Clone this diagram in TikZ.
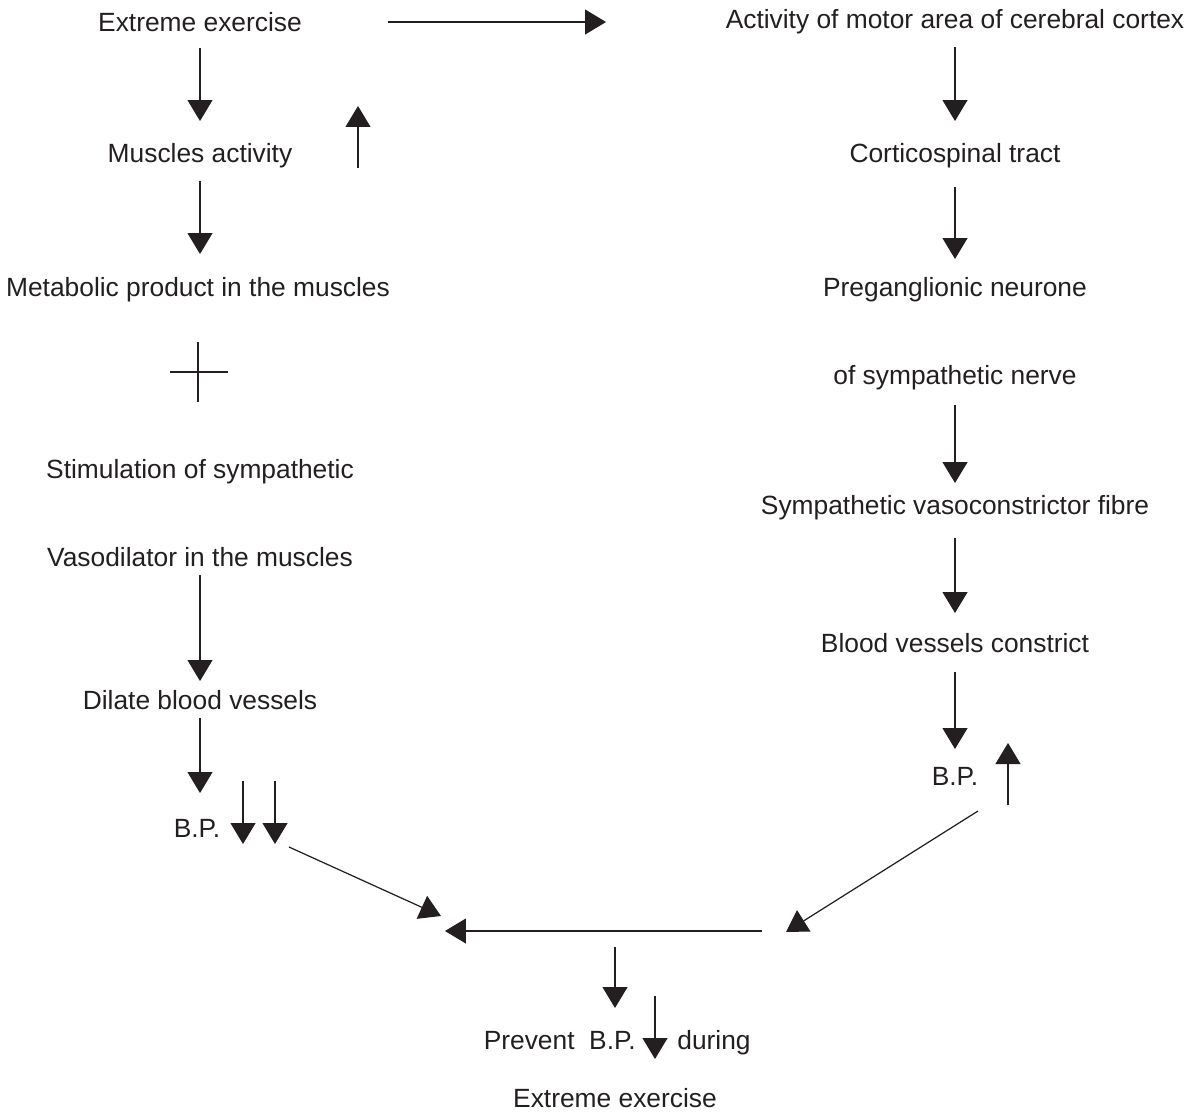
\documentclass[tikz,border=0pt]{standalone}
\usepackage{fontspec}
\setmainfont{Liberation Sans}
\usetikzlibrary{arrows.meta}
\definecolor{ink}{HTML}{231F20}
\begin{document}
\begin{tikzpicture}[x=0.02cm,y=-0.02cm,
  lbl/.style={inner sep=0pt,text=ink,font=\fontsize{15}{18}\selectfont},
  conn/.style={draw=ink,line width=0.7pt,-{Triangle[length=0.42cm,width=0.5cm]}},
  plain/.style={draw=ink,line width=0.7pt}]
\useasboundingbox (0,0) rectangle (1191,1112);
% left column
\node[lbl] (ee) at (200,22) {Extreme exercise};
\node[lbl] (ma) at (200,156) {Muscles activity};
\node[lbl] (mp) at (198,290) {Metabolic product in the muscles};
\node[lbl] (ss) at (200,472) {Stimulation of sympathetic};
\node[lbl] (vd) at (200,557) {Vasodilator in the muscles};
\node[lbl] (db) at (200,700) {Dilate blood vessels};
\node[lbl] (bpl) at (197,828) {B.P.};
% right column
\node[lbl] (am) at (955,22) {Activity of motor area of cerebral cortex};
\node[lbl] (ct) at (955,156) {Corticospinal tract};
\node[lbl] (pn) at (955,290) {Preganglionic neurone};
\node[lbl] (sn) at (955,378) {of sympathetic nerve};
\node[lbl] (sv) at (955,508) {Sympathetic vasoconstrictor fibre};
\node[lbl] (bc) at (955,643) {Blood vessels constrict};
\node[lbl] (bpr) at (955,776) {B.P.};
% bottom
\node[lbl,anchor=base east] (pv) at (636,1049) {Prevent\ \ B.P.};
\node[lbl,anchor=base west] (du) at (677,1049) {during};
\node[lbl] (ee2) at (615,1098) {Extreme exercise};
% coordinates for connector ends
\coordinate (h1) at (388,22);   \coordinate (h2) at (606,22);
\coordinate (a1) at (200,48);   \coordinate (a2) at (200,121);
\coordinate (u1) at (358,168);  \coordinate (u2) at (358,106);
\coordinate (b1) at (200,181);  \coordinate (b2) at (200,254);
\coordinate (c1) at (200,575);  \coordinate (c2) at (200,681);
\coordinate (d1) at (200,718);  \coordinate (d2) at (200,793);
\coordinate (e1) at (243,781);  \coordinate (e2) at (243,844);
\coordinate (f1) at (275,781);  \coordinate (f2) at (275,844);
\coordinate (x1) at (170,372);  \coordinate (x2) at (228,372);
\coordinate (y1) at (198,342);  \coordinate (y2) at (198,402);
\coordinate (r1) at (955,47);   \coordinate (r2) at (955,121);
\coordinate (s1) at (955,187);  \coordinate (s2) at (955,259);
\coordinate (t1) at (955,405);  \coordinate (t2) at (955,483);
\coordinate (v1) at (955,538);  \coordinate (v2) at (955,613);
\coordinate (w1) at (955,672);  \coordinate (w2) at (955,749);
\coordinate (z1) at (1008,805); \coordinate (z2) at (1008,743);
\coordinate (ld1) at (289,847); \coordinate (ld2) at (441,916);
\coordinate (rd1) at (978,811); \coordinate (rd2) at (786,932);
\coordinate (hb1) at (762,931); \coordinate (hb2) at (445,931);
\coordinate (g1) at (615,947);  \coordinate (g2) at (615,1008);
\coordinate (k1) at (655,996);  \coordinate (k2) at (655,1059);
% connectors
\draw[conn] (h1) -- (h2);
\draw[conn] (a1) -- (a2);
\draw[conn] (u1) -- (u2);
\draw[conn] (b1) -- (b2);
\draw[plain] (x1) -- (x2);
\draw[plain] (y1) -- (y2);
\draw[conn] (c1) -- (c2);
\draw[conn] (d1) -- (d2);
\draw[conn] (e1) -- (e2);
\draw[conn] (f1) -- (f2);
\draw[conn] (r1) -- (r2);
\draw[conn] (s1) -- (s2);
\draw[conn] (t1) -- (t2);
\draw[conn] (v1) -- (v2);
\draw[conn] (w1) -- (w2);
\draw[conn] (z1) -- (z2);
\draw[conn] (ld1) -- (ld2);
\draw[conn] (rd1) -- (rd2);
\draw[conn] (hb1) -- (hb2);
\draw[conn] (g1) -- (g2);
\draw[conn] (k1) -- (k2);
\end{tikzpicture}
\end{document}
